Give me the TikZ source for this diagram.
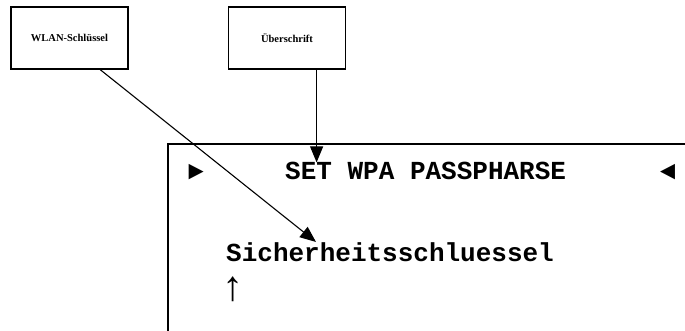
\documentclass[tikz,border=0pt]{standalone}
\usepackage{fontspec}
\setmainfont{Liberation Serif}
\setmonofont{Liberation Mono}
\usetikzlibrary{arrows.meta,positioning,calc}

\tikzset{
  labelbox/.style={draw,line width=1.4pt,minimum width=117pt,minimum height=62pt,
                   inner sep=0pt,font=\fontsize{10.5}{12}\selectfont\bfseries},
  lcd/.style={inner sep=0pt,anchor=base west,font=\fontsize{26}{30}\selectfont\ttfamily\bfseries},
  pointer/.style={line width=1.1pt,-{Triangle[length=16pt,width=13pt]}}
}

\begin{document}
\begin{tikzpicture}[x=1pt,y=-1pt]
  \useasboundingbox (0,0) rectangle (685,331);
  %% Label boxes
  \node[labelbox] (wlan)  at (69.5,38) {WLAN-Schlüssel};
  \node[labelbox] (title) at (287,38)  {Überschrift};
  %% Display frame
  \draw[line width=1.4pt] (168,331) |- (685,144);
  %% Display text
  \node[lcd] (mleft)  at (188,180) {►};
  \node[lcd] (head)   at (285,180) {SET WPA PASSPHARSE};
  \node[lcd] (mright) at (660,180) {◄};
  \node[lcd] (key)    at (226,261) {Sicherheitsschluessel};
  \node[lcd,font=\fontsize{42}{46}\selectfont\ttfamily] (cursor) at (220,300) {↑};
  %% Pointers
  \coordinate (keyout)   at ($(wlan.south west)!0.76!(wlan.south east)$);
  \coordinate (titleout) at ($(title.south west)!0.75!(title.south east)$);
  \coordinate (keytip)   at ([xshift=90pt]key.north west);
  \draw[pointer] (keyout) -- (keytip);
  \draw[pointer] (titleout) -- (titleout |- head.north);
\end{tikzpicture}
\end{document}
